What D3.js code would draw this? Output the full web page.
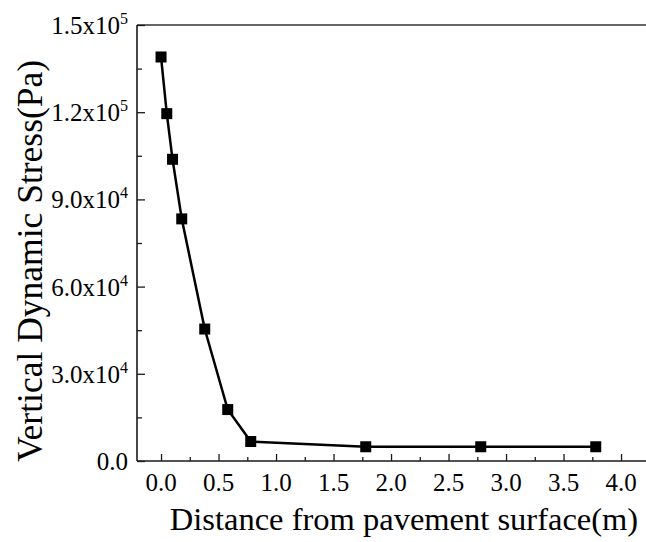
<!DOCTYPE html>
<html>
<head>
<meta charset="utf-8">
<script src="https://cdn.jsdelivr.net/npm/d3@7"></script>
<style>
  html, body { margin: 0; padding: 0; background: #fff; }
  svg { display: block; }
  text { font-family: "Liberation Serif", "Times New Roman", serif; fill: #000; }
</style>
</head>
<body>
<svg id="chart" width="646" height="542"></svg>
<script>
// ---- data ----
const depth = [0, 0.05, 0.1, 0.18, 0.38, 0.58, 0.78, 1.78, 2.78, 3.78];
const stress = [139000, 119500, 103800, 83300, 45400, 17700, 6700, 4900, 4900, 4900];
const xTicks = [0, 0.5, 1.0, 1.5, 2.0, 2.5, 3.0, 3.5, 4.0];
const xTickLabels = ["0.0", "0.5", "1.0", "1.5", "2.0", "2.5", "3.0", "3.5", "4.0"];
const xMinorTicks = [0.25, 0.75, 1.25, 1.75, 2.25, 2.75, 3.25, 3.75];
const yTicks = [0, 30000, 60000, 90000, 120000, 150000];
const yTickMant = ["0.0", "3.0", "6.0", "9.0", "1.2", "1.5"];
const yTickExp = ["", "4", "4", "4", "5", "5"];
const yMinorTicks = [15000, 45000, 75000, 105000, 135000];
const xTitle = "Distance from pavement surface(m)";
const yTitle = "Vertical Dynamic Stress(Pa)";

// ---- layout ----
const pLeft = 137, pRight = 646, pTop = 25, pBottom = 461;
const svg = d3.select("#chart");

const x = d3.scaleLinear().domain([-0.209, 4.217]).range([pLeft, pRight]);
const y = d3.scaleLinear().domain([0, 150000]).range([pBottom, pTop]);

const axisColor = "#1a1a1a";

// top border
svg.append("line")
  .attr("x1", pLeft).attr("x2", pRight)
  .attr("y1", pTop).attr("y2", pTop)
  .attr("stroke", "#333").attr("stroke-width", 1.6);

// x axis (ticks inward)
const gx = svg.append("g").attr("transform", `translate(0,${pBottom})`);
gx.call(d3.axisBottom(x).tickValues(xTicks).tickSize(-7).tickFormat(""));
gx.append("g").call(d3.axisBottom(x).tickValues(xMinorTicks).tickSize(-4).tickFormat(""));
gx.selectAll(".domain").remove();
gx.selectAll("line").attr("stroke", axisColor).attr("stroke-width", 1.3);
gx.append("line").attr("x1", pLeft).attr("x2", pRight).attr("y1", 0).attr("y2", 0)
  .attr("stroke", axisColor).attr("stroke-width", 1.6);
gx.selectAll(".xlab").data(xTicks).enter().append("text")
  .attr("class", "xlab")
  .attr("x", d => x(d)).attr("y", 30)
  .attr("text-anchor", "middle")
  .style("font-size", "25px")
  .text((d, i) => xTickLabels[i]);

// y axis (ticks inward)
const gy = svg.append("g").attr("transform", `translate(${pLeft},0)`);
gy.call(d3.axisLeft(y).tickValues(yTicks).tickSize(-8).tickFormat(""));
gy.append("g").call(d3.axisLeft(y).tickValues(yMinorTicks).tickSize(-5).tickFormat(""));
gy.selectAll(".domain").remove();
gy.selectAll("line").attr("stroke", axisColor).attr("stroke-width", 1.3);
gy.append("line").attr("x1", 0).attr("x2", 0).attr("y1", pTop).attr("y2", pBottom)
  .attr("stroke", axisColor).attr("stroke-width", 1.6);

yTicks.forEach((v, i) => {
  const t = gy.append("text")
    .attr("x", -9).attr("y", y(v) + 9)
    .attr("text-anchor", "end")
    .style("font-size", "25px");
  if (yTickExp[i]) {
    t.append("tspan").text(yTickMant[i] + "x10");
    t.append("tspan").attr("dy", -10).style("font-size", "16px").text(yTickExp[i]);
  } else {
    t.text(yTickMant[i]);
  }
});

// titles
svg.append("text")
  .attr("x", 404).attr("y", 530)
  .attr("text-anchor", "middle")
  .style("font-size", "32.5px")
  .text(xTitle);

svg.append("text")
  .attr("transform", `translate(42,261) rotate(-90)`)
  .attr("text-anchor", "middle")
  .style("font-size", "35.5px")
  .text(yTitle);

// series
const pts = depth.map((d, i) => [d, stress[i]]);
svg.append("path")
  .datum(pts)
  .attr("fill", "none")
  .attr("stroke", "#000")
  .attr("stroke-width", 2.5)
  .attr("d", d3.line().x(d => x(d[0])).y(d => y(d[1])));

const ms = 11;
svg.selectAll(".mk").data(pts).enter().append("rect")
  .attr("class", "mk")
  .attr("x", d => x(d[0]) - ms / 2)
  .attr("y", d => y(d[1]) - ms / 2)
  .attr("width", ms).attr("height", ms)
  .attr("fill", "#000");
</script>
</body>
</html>
